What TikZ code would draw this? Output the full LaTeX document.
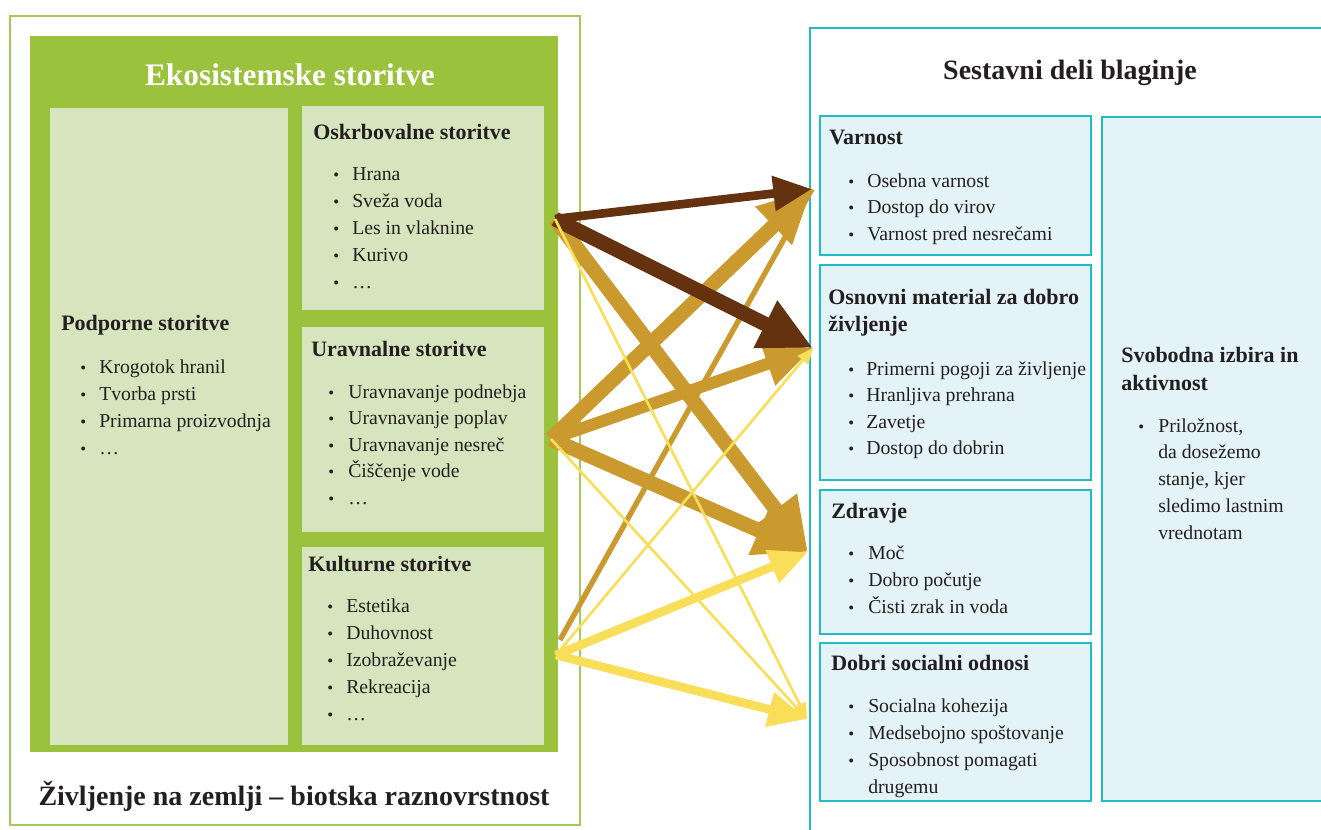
\documentclass[tikz,border=0pt]{standalone}
\usepackage{fontspec}
\setmainfont{Liberation Serif}
\usetikzlibrary{arrows.meta,fit}

\definecolor{leaf}{RGB}{155,194,60}
\definecolor{leafedge}{RGB}{166,202,88}
\definecolor{leafpale}{RGB}{214,229,189}
\definecolor{sea}{RGB}{34,188,201}
\definecolor{seapale}{RGB}{227,243,247}
\definecolor{ink}{RGB}{35,31,32}
\definecolor{bark}{RGB}{100,50,15}
\definecolor{ochre}{RGB}{202,154,46}
\definecolor{sunny}{RGB}{249,222,90}

\tikzset{
  box/.style={inner sep=0pt, outer sep=0pt},
  palebox/.style={box, fill=leafpale},
  seabox/.style={box, draw=sea, fill=seapale, line width=2pt},
  heading/.style={anchor=mid west, inner sep=0pt, yshift=-3pt, text=ink, font=\bfseries\fontsize{16.5}{20}\selectfont},
  item/.style={anchor=mid west, inner sep=0pt, yshift=-3pt, text=ink, font=\fontsize{14.8}{18}\selectfont},
  dot/.style={anchor=mid west, inner sep=0pt, yshift=-3pt, text=ink, font=\fontsize{12.5}{14}\selectfont},
  thickflow/.style={line width=11pt, -{Triangle[length=40pt,width=37pt]}},
  goldflow/.style={line width=9pt, -{Triangle[length=36pt,width=32pt]}},
  midflow/.style={line width=6.5pt, -{Triangle[length=29pt,width=25pt]}},
  hairflow/.style={line width=2pt, -{Triangle[length=12pt,width=10pt]}},
}

\begin{document}
\begin{tikzpicture}[x=0.75pt,y=-0.75pt]
	\useasboundingbox (0,0) rectangle (1321,829);

	% Left side: life on earth and the ecosystem services
	\node[box, draw=leafedge, line width=1.9pt, fit={(10,16) (580,825)}] (life) {};
	\node[box, fill=leaf, fit={(30,36) (558,752)}] (eco) {};
	\node[text=white, font=\bfseries\fontsize{23.5}{28}\selectfont, inner sep=0pt] (eco-h) at (290,75) {Ekosistemske storitve};
	\node[text=ink, font=\bfseries\fontsize{21}{25}\selectfont, inner sep=0pt, anchor=mid] (life-h) at (294,802) {Življenje na zemlji – biotska raznovrstnost};

	\node[palebox, fit={(50,108) (288,745)}] (podp) {};
	\node[palebox, fit={(302,106) (544,310)}] (osk) {};
	\node[palebox, fit={(302,327) (544,532)}] (urav) {};
	\node[palebox, fit={(302,547) (544,745)}] (kult) {};

	% Supporting services
	\node[heading] (podp-h) at (61,323) {Podporne storitve};
	\foreach \txt [count=\i from 0] in {Krogotok hranil, Tvorba prsti, Primarna proizvodnja, …} {
		\node[dot] (podp-b\i) at (80,366+27*\i) {\textbullet};
		\node[item] (podp-\i) at (99,366+27*\i) {\txt};
	}

	% Provisioning services
	\node[heading] (osk-h) at (313,132) {Oskrbovalne storitve};
	\foreach \txt [count=\i from 0] in {Hrana, Sveža voda, Les in vlaknine, Kurivo, …} {
		\node[dot] (osk-b\i) at (333,173+27*\i) {\textbullet};
		\node[item] (osk-\i) at (352,173+27*\i) {\txt};
	}

	% Regulating services
	\node[heading] (urav-h) at (311,349) {Uravnalne storitve};
	\foreach \txt [count=\i from 0] in {Uravnavanje podnebja, Uravnavanje poplav, Uravnavanje nesreč, Čiščenje vode, …} {
		\node[dot] (urav-b\i) at (328,391+26.6*\i) {\textbullet};
		\node[item] (urav-\i) at (348,391+26.6*\i) {\txt};
	}

	% Cultural services
	\node[heading] (kult-h) at (308,564) {Kulturne storitve};
	\foreach \txt [count=\i from 0] in {Estetika, Duhovnost, Izobraževanje, Rekreacija, …} {
		\node[dot] (kult-b\i) at (327,605+27*\i) {\textbullet};
		\node[item] (kult-\i) at (346,605+27*\i) {\txt};
	}

	% Right side: constituents of well-being
	\node[box, draw=sea, line width=1.9pt, fit={(810,28) (1345,850)}] (blag) {};
	\node[text=ink, font=\bfseries\fontsize{21}{25}\selectfont, inner sep=0pt, anchor=mid] (blag-h) at (1070,76) {Sestavni deli blaginje};

	\node[seabox, fit={(820,116) (1091,255)}] (varn) {};
	\node[seabox, fit={(820,265) (1091,480)}] (osn) {};
	\node[seabox, fit={(820,490) (1091,634)}] (zdr) {};
	\node[seabox, fit={(820,643) (1091,801)}] (dob) {};
	\node[seabox, fit={(1102,117) (1345,801)}] (svob) {};

	% Security
	\node[heading] (varn-h) at (829,137) {Varnost};
	\foreach \txt [count=\i from 0] in {Osebna varnost, Dostop do virov, Varnost pred nesrečami} {
		\node[dot] (varn-b\i) at (848,180+26.5*\i) {\textbullet};
		\node[item] (varn-\i) at (867,180+26.5*\i) {\txt};
	}

	% Basic material for good life
	\node[heading] (osn-h) at (828,297) {Osnovni material za dobro};
	\node[heading] (osn-h2) at (828,324) {življenje};
	\foreach \txt [count=\i from 0] in {Primerni pogoji za življenje, Hranljiva prehrana, Zavetje, Dostop do dobrin} {
		\node[dot] (osn-b\i) at (848,368+26.5*\i) {\textbullet};
		\node[item] (osn-\i) at (866,368+26.5*\i) {\txt};
	}

	% Health
	\node[heading] (zdr-h) at (831,511) {Zdravje};
	\foreach \txt [count=\i from 0] in {Moč, Dobro počutje, Čisti zrak in voda} {
		\node[dot] (zdr-b\i) at (848,552+27*\i) {\textbullet};
		\node[item] (zdr-\i) at (868,552+27*\i) {\txt};
	}

	% Good social relations
	\node[heading] (dob-h) at (831,663) {Dobri socialni odnosi};
	\foreach \txt [count=\i from 0] in {Socialna kohezija, Medsebojno spoštovanje, Sposobnost pomagati} {
		\node[dot] (dob-b\i) at (848,705+27*\i) {\textbullet};
		\node[item] (dob-\i) at (868,705+27*\i) {\txt};
	}
	\node[item] (dob-3) at (868,786) {drugemu};

	% Freedom of choice
	\node[heading] (svob-h) at (1121,355) {Svobodna izbira in};
	\node[heading] (svob-h2) at (1121,383) {aktivnost};
	\node[dot] (svob-b0) at (1138,425) {\textbullet};
	\foreach \txt [count=\i from 0] in {{Priložnost,}, da dosežemo, {stanje, kjer}, sledimo lastnim, vrednotam} {
		\node[item] (svob-\i) at (1158,425+26.8*\i) {\txt};
	}

	% Arrow ends
	\coordinate (osk-out) at (555,219);
	\coordinate (urav-out) at (551,439);
	\coordinate (kult-out) at (556,655);
	\coordinate (kult-top) at (560,640);
	\coordinate (varn-in) at (812,189);
	\coordinate (osn-in) at (813,348);
	\coordinate (zdr-in) at (808,552);
	\coordinate (dob-in) at (807,719);

	% Gold links
	\draw[thickflow, ochre] (osk-out) -- (zdr-in);
	\draw[thickflow, ochre] (urav-out) -- (varn-in);
	\draw[goldflow, ochre] (urav-out) -- (osn-in);
	\draw[thickflow, ochre] (urav-out) -- (zdr-in);
	\draw[line width=4pt, ochre] (kult-top) -- (varn-in);

	% Brown links
	\draw[midflow, bark] (osk-out) -- (varn-in);
	\draw[thickflow, bark] (osk-out) -- (osn-in);

	% Yellow links
	\draw[midflow, sunny] (kult-out) -- (zdr-in);
	\draw[midflow, sunny] (kult-out) -- (dob-in);
	\draw[hairflow, sunny] (osk-out) -- (dob-in);
	\draw[hairflow, sunny] (urav-out) -- (dob-in);
	\draw[hairflow, sunny] (kult-out) -- (osn-in);
\end{tikzpicture}
\end{document}
